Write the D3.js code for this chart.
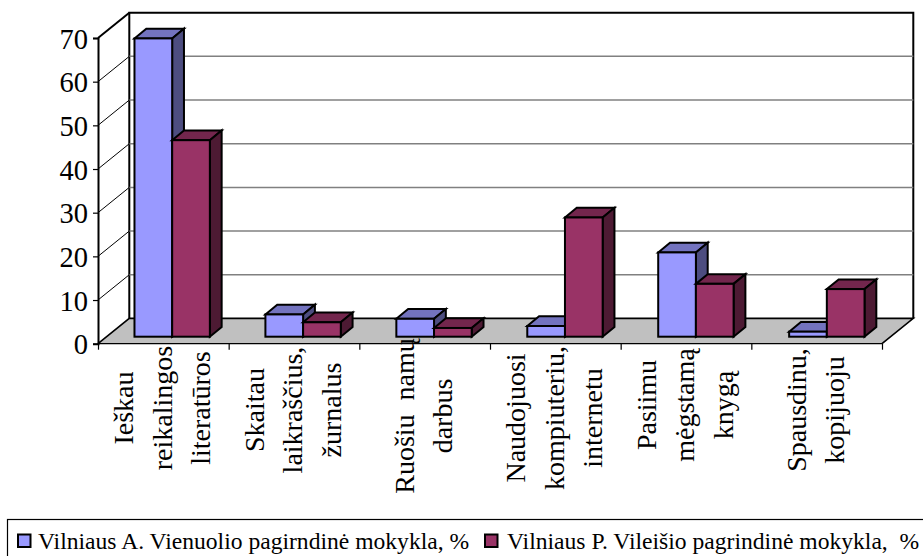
<!DOCTYPE html>
<html><head><meta charset="utf-8">
<script src="https://cdn.jsdelivr.net/npm/d3@7"></script>
<style>html,body{margin:0;padding:0;background:#fff}svg{display:block}text{font-family:"Liberation Serif";fill:#000;white-space:pre}</style>
</head><body><div id="c"></div>
<script>
const categories=[["Ieškau","reikalingos","literatūros"],["Skaitau","laikraščius,","žurnalus"],["Ruošiu  namų","darbus"],["Naudojuosi","kompiuteriu,","internetu"],["Pasiimu","mėgstamą","knygą"],["Spausdinu,","kopijuoju"]];
const seriesA=[68.3,5.1,4.1,2.45,19.3,1.15];
const seriesB=[45,3.3,2.0,27.3,12.1,10.9];
const seriesNames=["Vilniaus A. Vienuolio pagirndinė mokykla, %","Vilniaus P. Vileišio pagrindinė mokykla,  %"];
const yTicks=[0,10,20,30,40,50,60,70];
const colorsA={front:"#9999FF",top:"#7373BF",side:"#4D4D80"};
const colorsB={front:"#993366",top:"#73264D",side:"#4D1A33"};
const labelMid=[408,410,416,418,405,410];

const W=923,H=556;
const svg=d3.select("#c").append("svg").attr("width",W).attr("height",H);
const L=98,R=882,DX=31.3,DY=-25.3;
const y=d3.scaleLinear().domain([0,70]).range([343.7,38]);
const x=d3.scaleBand().domain(d3.range(6)).range([L,R]);
const xBars=d3.scaleBand().domain(d3.range(6)).range([L+8.7,L+8.7+785.6]);
const inner=d3.scaleBand().domain([0,1]).range([0,xBars.bandwidth()]).paddingOuter(0.737).paddingInner(0);
const barDY=-7,depthX=11.8,depthY=-9.7;
const pts=a=>a.map(p=>p.join(",")).join(" ");
const y0=y(0),yT=y(70);

// wall
svg.append("path").attr("d",`M${L+DX},${y0+DY}V${yT+DY}H${R+DX}V${y0+DY}`).attr("fill","#fff").attr("stroke","#000").attr("stroke-width",2);
// gridlines
yTicks.filter(t=>t>0&&t<70).forEach(t=>{
  svg.append("line").attr("x1",L+DX).attr("x2",R+DX).attr("y1",y(t)+DY).attr("y2",y(t)+DY).attr("stroke","#808080").attr("stroke-width",1.5);
});
yTicks.filter(t=>t>0).forEach(t=>{
  svg.append("line").attr("x1",L).attr("x2",L+DX).attr("y1",y(t)).attr("y2",y(t)+DY).attr("stroke","#000").attr("stroke-width",t==70?2:1);
});
// floor
svg.append("polygon").attr("points",pts([[L,y0],[R,y0],[R+DX,y0+DY],[L+DX,y0+DY]])).attr("fill","#C0C0C0").attr("stroke","none");
svg.append("path").attr("d",`M${L},${y0}L${L+DX},${y0+DY}H${R+DX}L${R},${y0}`).attr("fill","none").attr("stroke","#000").attr("stroke-width",1.6);
svg.append("line").attr("x1",L).attr("x2",R).attr("y1",y0).attr("y2",y0).attr("stroke","#000").attr("stroke-width",1.2);

// bars
function bar(i,s,v,c){
  const x0=xBars(i)+inner(s), x1=x0+inner.bandwidth(), b=y0+barDY, t=y(v)+barDY;
  const g=svg.append("g").attr("stroke","#000").attr("stroke-width",2).attr("stroke-linejoin","miter");
  g.append("polygon").attr("points",pts([[x0,t],[x0+depthX,t+depthY],[x1+depthX,t+depthY],[x1,t]])).attr("fill",c.top);
  g.append("polygon").attr("points",pts([[x1,t],[x1+depthX,t+depthY],[x1+depthX,b+depthY],[x1,b]])).attr("fill",c.side);
  g.append("rect").attr("x",x0).attr("y",t).attr("width",x1-x0).attr("height",b-t).attr("fill",c.front);
}
categories.forEach((_,i)=>{bar(i,0,seriesA[i],colorsA);bar(i,1,seriesB[i],colorsB);});

// y axis
const ay=svg.append("g").attr("transform",`translate(${L},0)`).call(d3.axisLeft(y).tickValues(yTicks).tickSize(5).tickPadding(5).tickFormat(d3.format("d")));
ay.select(".domain").attr("stroke","#000").attr("stroke-width",2);
ay.selectAll(".tick line").attr("stroke","#000").attr("stroke-width",1.2);
ay.selectAll("text").attr("font-size",28.5).attr("dy","0.36em").attr("font-family","Liberation Serif").attr("fill","#000");
// x axis ticks
const tickPos=d3.scalePoint().domain(d3.range(7)).range([L,R]);
const ax=svg.append("g").attr("transform",`translate(0,${y0})`).call(d3.axisBottom(tickPos).tickSize(6).tickFormat(""));
ax.select(".domain").remove();
ax.selectAll(".tick line").attr("stroke","#000").attr("stroke-width",1.2);

// category labels
categories.forEach((lines,i)=>{
  const cx=x(i)+x.bandwidth()/2+8.3, n=lines.length;
  lines.forEach((s,j)=>{
    const bx=cx+(j-(n-1)/2)*38.6;
    svg.append("text").attr("transform",`translate(${bx},${labelMid[i]}) rotate(-90)`).attr("text-anchor","middle").attr("font-size",28).text(s);
  });
});

// legend
svg.append("rect").attr("x",7.5).attr("y",519.5).attr("width",W).attr("height",H).attr("fill","#fff").attr("stroke","#000").attr("stroke-width",1.2);
const legX=[18,485],legT=[38,507],legC=[colorsA.front,colorsB.front];
seriesNames.forEach((s,i)=>{
  svg.append("rect").attr("x",legX[i]).attr("y",534.5).attr("width",12.5).attr("height",12.5).attr("fill",legC[i]).attr("stroke","#000").attr("stroke-width",2);
  svg.append("text").attr("x",legT[i]).attr("y",549).attr("font-size",23.6).text(s);
});
</script></body></html>
